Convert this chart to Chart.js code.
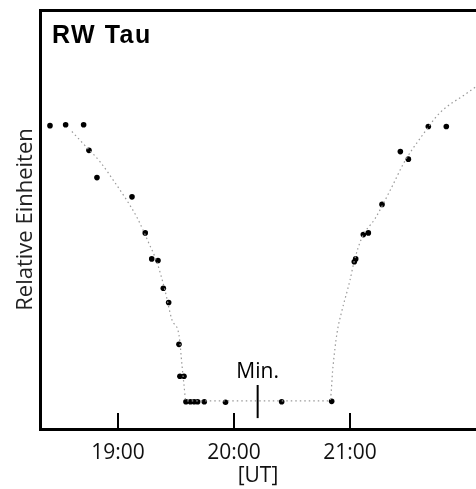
<!DOCTYPE html>
<html>
<head>
<meta charset="utf-8">
<script src="https://cdn.jsdelivr.net/npm/chart.js@4/dist/chart.umd.min.js"></script>
<style>
  html, body { margin: 0; padding: 0; background: #fff; }
  #chart-wrap { width: 476px; height: 489px; }
</style>
</head>
<body>
<div id="chart-wrap"><canvas id="rwtau-chart"></canvas></div>
<script>
// time in hours UT, brightness in relative units
const starName = "RW Tau";
const tickTimes = [19, 20, 21];
const tickLabels = ["19:00", "20:00", "21:00"];

const obsTimes = [
  18.414, 18.549, 18.704, 18.75, 18.819, 19.121, 19.235, 19.291, 19.345,
  19.391, 19.437, 19.526, 19.534, 19.569, 19.586, 19.624, 19.657, 19.687,
  19.744, 19.927, 20.411, 20.842, 21.037, 21.049, 21.115, 21.158, 21.276,
  21.434, 21.503, 21.675, 21.83
];
const obsValues = [
  7.24, 7.26, 7.26, 6.65, 6.0, 5.54, 4.68, 4.06, 4.02,
  3.36, 3.02, 2.02, 1.26, 1.26, 0.65, 0.65, 0.65, 0.65,
  0.65, 0.64, 0.65, 0.66, 3.99, 4.06, 4.64, 4.68, 5.36,
  6.62, 6.44, 7.22, 7.22
];

const fitTimes = [
  18.603, 18.707, 18.845, 18.974, 19.078, 19.164, 19.267, 19.336, 19.405,
  19.466, 19.526, 19.552, 19.569, 19.586, 20.828, 20.853, 20.888, 20.931,
  21.0, 21.034, 21.103, 21.216, 21.345, 21.474, 21.603, 21.776, 22.0, 22.086
];
const fitValues = [
  7.1, 6.79, 6.38, 5.88, 5.45, 5.05, 4.43, 3.98, 3.31,
  2.6, 2.24, 1.52, 1.05, 0.67, 0.67, 1.48, 2.29, 2.83,
  3.55, 3.98, 4.57, 5.02, 5.69, 6.4, 6.93, 7.55, 8.0, 8.17
];

const minLabel = "Min.";
const minTime = 20.204;
const minBar = [0.26, 1.05];

const textFont = "'Open Sans', sans-serif";

const labelPlugin = {
  id: "labelPlugin",
  afterDatasetsDraw(chart) {
    const { ctx, chartArea, scales } = chart;
    ctx.save();
    ctx.fillStyle = "#000";
    ctx.textBaseline = "alphabetic";
    ctx.font = "bold 25px 'Liberation Sans', Arial, sans-serif";
    ctx.letterSpacing = "1.5px";
    ctx.fillText(starName, chartArea.left + 12, chartArea.top + 33);
    ctx.letterSpacing = "0px";
    ctx.font = "21px " + textFont;
    ctx.textAlign = "center";
    ctx.fillText(
      minLabel,
      scales.x.getPixelForValue(minTime),
      scales.y.getPixelForValue(minBar[1]) - 7
    );
    ctx.restore();
  },
};

const rwtauChart = document.getElementById("rwtau-chart");
const rwtauChartInstance = new Chart(rwtauChart, {
  type: "scatter",
  data: {
    datasets: [
      {
        label: "fit",
        data: fitTimes.map((t, i) => ({ x: t, y: fitValues[i] })),
        showLine: true,
        borderColor: "#999",
        borderWidth: 1.2,
        borderDash: [1.5, 3],
        pointRadius: 0,
        cubicInterpolationMode: "monotone",
      },
      {
        label: "Messwerte",
        data: obsTimes.map((t, i) => ({ x: t, y: obsValues[i] })),
        backgroundColor: "#000",
        borderColor: "#000",
        pointRadius: 2.8,
        pointBorderWidth: 0,
      },
      {
        label: "Min.",
        data: minBar.map((v) => ({ x: minTime, y: v })),
        showLine: true,
        borderColor: "#000",
        borderWidth: 2,
        pointRadius: 0,
      },
    ],
  },
  options: {
    responsive: true,
    maintainAspectRatio: false,
    animation: false,
    layout: {
      autoPadding: false,
      padding: { top: 10, right: 0, bottom: 0, left: 0 },
    },
    plugins: {
      legend: { display: false },
      tooltip: { enabled: false },
    },
    scales: {
      x: {
        type: "linear",
        position: "bottom",
        min: 18.328,
        max: 22.086,
        afterBuildTicks: (scale) => {
          scale.ticks = tickTimes.map((v) => ({ value: v }));
        },
        afterFit: (scale) => {
          scale.height = 60;
        },
        ticks: {
          callback: (value, index) => tickLabels[index],
          autoSkip: false,
          maxRotation: 0,
          padding: 27,
          color: "#111",
          font: { family: textFont, size: 21 },
        },
        grid: {
          display: true,
          drawOnChartArea: false,
          drawTicks: true,
          tickLength: -16,
          color: "#000",
          lineWidth: 2,
        },
        border: { display: true, color: "#000", width: 3 },
        title: {
          display: true,
          text: "[UT]",
          color: "#111",
          font: { family: textFont, size: 21 },
          padding: { top: 0, bottom: 0 },
        },
      },
      x2: {
        type: "linear",
        position: "top",
        display: true,
        afterFit: (scale) => {
          scale.height = 0;
        },
        ticks: { display: false },
        grid: { display: false, drawTicks: false },
        border: { display: true, color: "#000", width: 3 },
      },
      y: {
        type: "linear",
        position: "left",
        min: 0,
        max: 10,
        afterFit: (scale) => {
          scale.width = 40;
        },
        ticks: { display: false },
        grid: { display: false, drawTicks: false },
        border: { display: true, color: "#000", width: 3 },
        title: {
          display: true,
          text: "Relative Einheiten",
          color: "#222",
          font: { family: textFont, size: 22 },
          padding: { top: 13, bottom: 0 },
        },
      },
    },
  },
  plugins: [labelPlugin],
});
</script>
</body>
</html>
